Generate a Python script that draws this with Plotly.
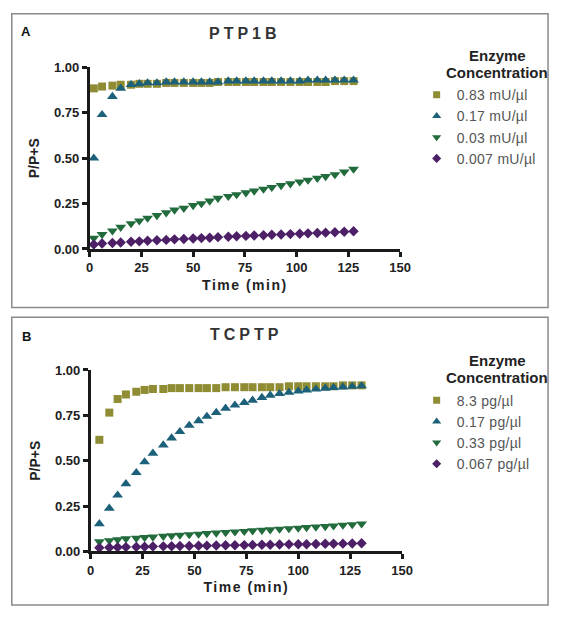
import plotly.graph_objects as go

# ---------------- data ----------------
time_a = [2, 6, 11, 15, 20, 24, 28, 32.5, 37, 41, 45.5, 50, 54, 58, 62, 67, 71, 75.5, 79.5, 84,
          88, 92.5, 97, 101.5, 105.5, 110, 114, 118.5, 123, 127.5]
a_083 = [0.885, 0.895, 0.90, 0.905, 0.905, 0.91, 0.91, 0.91, 0.915, 0.915, 0.915, 0.915, 0.915, 0.915, 0.92,
         0.92, 0.92, 0.92, 0.92, 0.92, 0.92, 0.92, 0.92, 0.92, 0.92, 0.92, 0.92, 0.925, 0.925, 0.925]
a_017 = [0.50, 0.74, 0.84, 0.885, 0.905, 0.91, 0.915, 0.915, 0.92, 0.92, 0.92, 0.92, 0.92, 0.92, 0.92,
         0.925, 0.925, 0.925, 0.925, 0.925, 0.925, 0.925, 0.925, 0.925, 0.93, 0.93, 0.93, 0.93, 0.93, 0.93]
a_003 = [0.06, 0.08, 0.10, 0.12, 0.14, 0.155, 0.17, 0.185, 0.20, 0.215, 0.225, 0.24, 0.25, 0.265, 0.28,
         0.29, 0.30, 0.31, 0.32, 0.33, 0.34, 0.35, 0.36, 0.37, 0.38, 0.39, 0.40, 0.41, 0.425, 0.44]
a_0007 = [0.025, 0.03, 0.033, 0.036, 0.04, 0.042, 0.045, 0.048, 0.05, 0.053, 0.055, 0.058, 0.06, 0.062, 0.065,
          0.067, 0.07, 0.072, 0.074, 0.076, 0.078, 0.08, 0.082, 0.084, 0.086, 0.088, 0.09, 0.092, 0.095, 0.098]

time_b = [4.2, 9, 13, 17, 22, 26, 30, 35, 39, 43, 47.5, 52, 56, 60.5, 65, 69.5, 74, 78, 82.5, 86.5,
          91, 95.5, 100, 104, 108.5, 113, 117, 121.5, 126, 130.5]
b_83 = [0.615, 0.765, 0.84, 0.865, 0.88, 0.89, 0.895, 0.895, 0.90, 0.90, 0.90, 0.90, 0.90, 0.90, 0.905,
        0.905, 0.905, 0.905, 0.905, 0.905, 0.905, 0.91, 0.91, 0.91, 0.91, 0.91, 0.91, 0.915, 0.915, 0.915]
b_017 = [0.152, 0.238, 0.31, 0.373, 0.434, 0.493, 0.541, 0.586, 0.625, 0.66, 0.694, 0.72, 0.744, 0.765, 0.789,
         0.806, 0.82, 0.833, 0.848, 0.86, 0.869, 0.876, 0.883, 0.889, 0.894, 0.899, 0.903, 0.906, 0.909, 0.912]
b_033 = [0.054, 0.06, 0.065, 0.07, 0.073, 0.077, 0.08, 0.084, 0.087, 0.09, 0.093, 0.096, 0.099, 0.102, 0.105,
         0.108, 0.111, 0.114, 0.117, 0.12, 0.123, 0.126, 0.129, 0.132, 0.135, 0.138, 0.141, 0.145, 0.148, 0.152]
b_0067 = [0.02, 0.022, 0.023, 0.024, 0.025, 0.026, 0.027, 0.028, 0.029, 0.03, 0.03, 0.031, 0.032, 0.033, 0.034,
          0.034, 0.035, 0.036, 0.037, 0.037, 0.038, 0.039, 0.04, 0.04, 0.041, 0.042, 0.042, 0.043, 0.044, 0.045]

labels_a = ["0.83 mU/µl", "0.17 mU/µl", "0.03 mU/µl", "0.007 mU/µl"]
labels_b = ["8.3 pg/µl", "0.17 pg/µl", "0.33 pg/µl", "0.067 pg/µl"]
x_ticks = [0, 25, 50, 75, 100, 125, 150]
y_ticks = [0, 0.25, 0.5, 0.75, 1.0]
y_ticklabels = ["0.00", "0.25", "0.50", "0.75", "1.00"]

# ---------------- styles ----------------
colors = ["#8f8c33", "#1c6079", "#216b3c", "#4d1f66"]
symbols = ["square", "triangle-up", "triangle-down", "diamond"]
sizes = [8, 9.5, 9.5, 8]
legend_sizes = [7, 8, 8, 7]
FONT = "Liberation Sans, Arial, sans-serif"
W, H = 561, 617

fig = go.Figure()

def add_panel(times, series, labels, xa, ya, leg):
    for i in range(4):
        fig.add_trace(go.Scatter(x=times, y=series[i], mode="markers", name=labels[i], showlegend=False,
                                 marker=dict(symbol=symbols[i], color=colors[i], size=sizes[i], line=dict(width=0)),
                                 xaxis=xa, yaxis=ya, cliponaxis=False))
    for i in range(4):
        fig.add_trace(go.Scatter(x=[None], y=[None], mode="markers",
                                 name=f"<span style='letter-spacing:0.3px'>{labels[i]}</span>",
                                 marker=dict(symbol=symbols[i], color=colors[i], size=legend_sizes[i],
                                             line=dict(width=0)),
                                 xaxis=xa, yaxis=ya, legend=leg, showlegend=True))

add_panel(time_a, [a_083, a_017, a_003, a_0007], labels_a, "x", "y", "legend")
add_panel(time_b, [b_83, b_017, b_033, b_0067], labels_b, "x2", "y2", "legend2")

def px_x(p):
    return p / W

def px_y(p):
    return 1 - p / H

axis_common = dict(
    showgrid=False, zeroline=False, showline=True, linecolor="#1a1a1a", linewidth=2.5,
    ticks="outside", ticklen=5, tickwidth=2.5, tickcolor="#1a1a1a",
    tickfont=dict(family=FONT, size=13, color="#222222", weight="bold"),
)

xa = dict(axis_common, range=[0, 150], tickvals=x_ticks, ticktext=[str(v) for v in x_ticks],
          title=dict(text="<span style='letter-spacing:1.5px'><b>Time (min)</b></span>",
                     font=dict(family=FONT, size=14, color="#222222"), standoff=6))
ya = dict(axis_common, range=[0, 1.0], tickvals=y_ticks, ticktext=y_ticklabels,
          title=dict(text="<b>P/P+S</b>", font=dict(family=FONT, size=14, color="#222222"), standoff=12))

legend_common = dict(
    xanchor="left", yanchor="top", font=dict(family=FONT, size=14, color="#555555"),
    itemsizing="trace", bgcolor="rgba(0,0,0,0)", tracegroupgap=0,
)

fig.update_layout(
    width=W, height=H,
    margin=dict(l=0, r=0, t=0, b=0),
    paper_bgcolor="white", plot_bgcolor="white",
    xaxis=dict(xa, domain=[px_x(88), px_x(407)], anchor="y"),
    yaxis=dict(ya, domain=[px_y(248), px_y(62)], anchor="x"),
    xaxis2=dict(xa, domain=[px_x(89), px_x(409)], anchor="y2"),
    yaxis2=dict(ya, domain=[px_y(558), px_y(372)], anchor="x2"),
    legend=dict(legend_common, x=px_x(424), y=px_y(74)),
    legend2=dict(legend_common, x=px_x(424), y=px_y(387)),
    showlegend=True,
)

# panel borders
fig.add_shape(type="rect", xref="paper", yref="paper", x0=px_x(8), x1=px_x(559), y0=px_y(308), y1=px_y(7),
              line=dict(color="#8a8a8a", width=1.5), fillcolor="rgba(0,0,0,0)", layer="below")
fig.add_shape(type="rect", xref="paper", yref="paper", x0=px_x(8), x1=px_x(559), y0=px_y(613), y1=px_y(318),
              line=dict(color="#8a8a8a", width=1.5), fillcolor="rgba(0,0,0,0)", layer="below")

def note(text, xp, yp, size, color):
    fig.add_annotation(text=text, xref="paper", yref="paper", x=px_x(xp), y=px_y(yp),
                       xanchor="center", yanchor="middle", showarrow=False,
                       font=dict(family=FONT, size=size, color=color))

# panel letters and titles
note("<b>A</b>", 23, 25, 13, "#111111")
note("<b>B</b>", 23, 338, 13, "#111111")
note("<span style='letter-spacing:4px'><b>PTP1B</b></span>", 248, 27, 16, "#333333")
note("<span style='letter-spacing:4px'><b>TCPTP</b></span>", 249, 336, 16, "#333333")

# legend headings
for y1, y2 in [(50, 67), (362, 380)]:
    note("<b>Enzyme</b>", 507, y1, 15, "#222222")
    note("<b>Concentration</b>", 507, y2, 15, "#222222")

fig.write_html("out.html", config={"displayModeBar": False},
               post_script="document.body.style.margin='0';document.body.style.overflow='hidden';")
